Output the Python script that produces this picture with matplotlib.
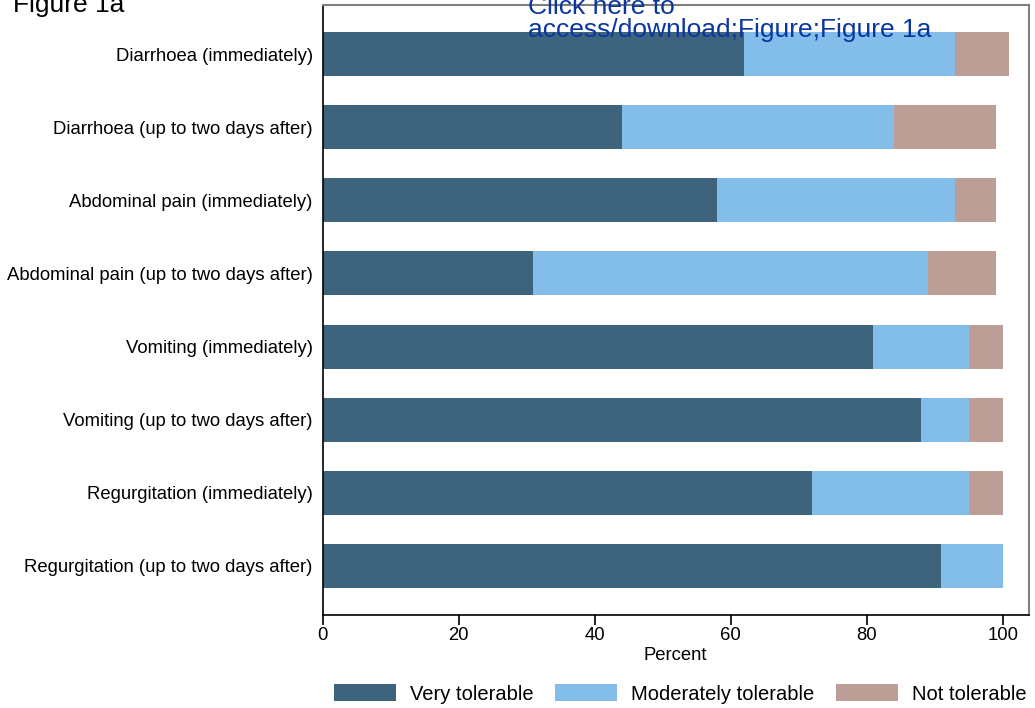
import matplotlib.pyplot as plt
import numpy as np

plt.rcParams['font.family'] = ['Liberation Sans', 'DejaVu Sans']

# categorias (de arriba hacia abajo)
categorias = [
    'Diarrhoea (immediately)',
    'Diarrhoea (up to two days after)',
    'Abdominal pain (immediately)',
    'Abdominal pain (up to two days after)',
    'Vomiting (immediately)',
    'Vomiting (up to two days after)',
    'Regurgitation (immediately)',
    'Regurgitation (up to two days after)',
]
muy_tolerable = [62, 44, 58, 31, 81, 88, 72, 91]
moderado = [31, 40, 35, 58, 14, 7, 23, 9]
no_tolerable = [8, 15, 6, 10, 5, 5, 5, 0]

series = ['Very tolerable', 'Moderately tolerable', 'Not tolerable']
colores = ['#3e637d', '#82bee9', '#bd9e97']
xticks = [0, 20, 40, 60, 80, 100]

W, H = 1035, 708
fs = 13.3
fig = plt.figure(figsize=(W / 100, H / 100), dpi=100)
ax = fig.add_axes([322.5 / W, (H - 615) / H, (1028.5 - 322.5) / W, (615 - 5) / H])

y = np.arange(len(categorias))
izq = np.zeros(len(categorias))
for nombre, vals, c in zip(series, [muy_tolerable, moderado, no_tolerable], colores):
    ax.barh(y, vals, left=izq, height=0.6, color=c, label=nombre)
    izq += np.array(vals)

ax.set_ylim(7.67, -0.67)
ax.set_xlim(0, 103.8)
ax.set_yticks(y)
ax.set_yticklabels(categorias, fontsize=fs)
ax.tick_params(axis='y', length=0, pad=7)
ax.set_xticks(xticks)
ax.tick_params(axis='x', labelsize=fs, length=7, width=1.2, pad=2)
ax.set_xlabel('Percent', fontsize=fs, labelpad=1.5)

for s in ['left', 'bottom']:
    ax.spines[s].set_color('black')
    ax.spines[s].set_linewidth(1.2)
for s in ['top', 'right']:
    ax.spines[s].set_color('#808080')
    ax.spines[s].set_linewidth(1.5)

fig.legend(loc='center', bbox_to_anchor=(680.5 / W, 1 - 694 / H), ncol=3, frameon=False,
           fontsize=14.5, handlelength=3.08, handleheight=0.94, handletextpad=0.69,
           columnspacing=1.08, borderpad=0)

# textos de la pagina recortada
fig.text(13 / W, 1 - 12 / H, 'Figure 1a', fontsize=19, ha='left', va='baseline')
fig.text(528 / W, 1 - 37 / H, 'Click here to\naccess/download;Figure;Figure 1a',
         fontsize=19, color='#0b36a0', ha='left', va='baseline', linespacing=0.95)

fig.savefig('out.png', dpi=100)
